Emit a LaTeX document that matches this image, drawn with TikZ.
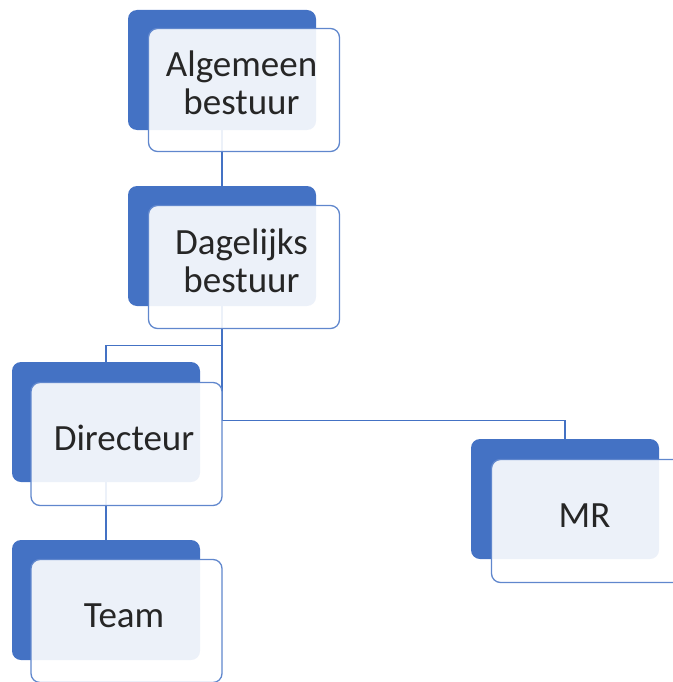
\documentclass[tikz,border=0pt]{standalone}
\usepackage{fontspec}
\setmainfont{Carlito}
\usetikzlibrary{calc}
\definecolor{orgblue}{HTML}{4472C4}
\definecolor{orgtext}{HTML}{262626}
\newcommand{\boxlabel}[1]{\raisebox{0pt}[\height][\dimexpr\depth+4pt]{\begin{tabular}{@{}c@{}}#1\end{tabular}}\hspace*{5pt}}
\tikzset{backbox/.style={rectangle,rounded corners=9pt,fill=orgblue,draw=none,minimum width=188pt,minimum height=120pt,inner sep=0pt},
frontbox/.style={rectangle,rounded corners=9pt,draw=orgblue!85,line width=1.3pt,fill=white,fill opacity=0.9,text opacity=1,minimum width=191pt,minimum height=123pt,inner sep=0pt,align=center,text=orgtext,font=\fontsize{37}{40}\selectfont},
conn/.style={draw=orgblue,line width=1.3pt}}

\begin{document}
\begin{tikzpicture}[x=1pt,y=-1pt]
\useasboundingbox (0,0) rectangle (672,682);

%back boxes
\node[backbox] (algB)  at (222,70)  {};
\node[backbox] (dagB)  at (222,246) {};
\node[backbox] (dirB)  at (106,422) {};
\node[backbox] (mrB)   at (565,499) {};
\node[backbox] (teamB) at (106,600) {};

%lines
\draw[conn] (algB.south) -- (dagB.north);		%AB--DB
\draw[conn] (dagB.south) -- ++(0,39) -| (dirB.north);	%DB--Dir
\draw[conn] (dagB.south) -- ++(0,114) -| (mrB.north);	%DB--MR
\draw[conn] (dirB.south) -- (teamB.north);		%Dir--Team

%front boxes
\node[frontbox] (alg)  at (244,90)    {\boxlabel{Algemeen\\[-2pt]bestuur}};
\node[frontbox] (dag)  at (244,267)   {\boxlabel{Dagelijks\\[-2pt]bestuur}};
\node[frontbox] (dir)  at (126.5,444) {\boxlabel{Directeur}};
\node[frontbox] (mr)   at (587,521)   {\boxlabel{MR}};
\node[frontbox] (team) at (126.5,621) {\boxlabel{Team}};
\end{tikzpicture}
\end{document}
